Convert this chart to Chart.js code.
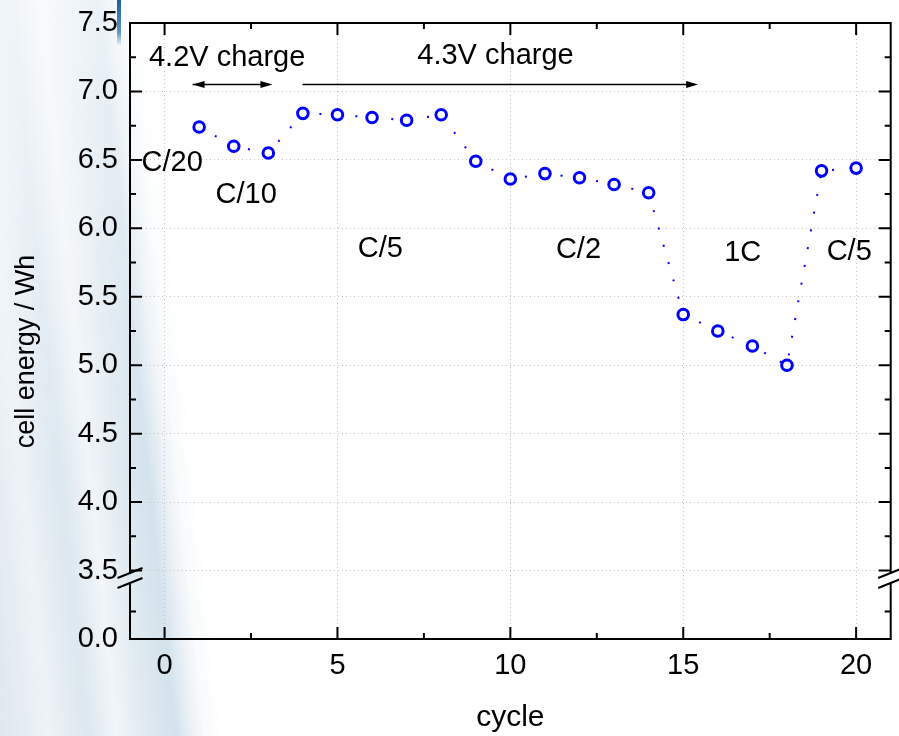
<!DOCTYPE html>
<html>
<head>
<meta charset="utf-8">
<script src="https://cdn.jsdelivr.net/npm/chart.js@4.4.1/dist/chart.umd.min.js"></script>
<style>
  html, body { margin: 0; padding: 0; }
  body {
    width: 899px; height: 736px; overflow: hidden; position: relative;
    background:
      linear-gradient(to bottom, rgba(255,255,255,0.55), rgba(255,255,255,0) 65%),
      linear-gradient(84deg, #dfe8ef 0%, #edf2f6 5%, #dde8f0 9%, #f1f5f8 12%,
        #e0eaf1 15%, #d3e2ec 18%, #e9f0f5 19.5%, #f9fbfc 21%, #ffffff 23%);
  }
  #streak {
    position: absolute; left: 117px; top: 0; width: 4px; height: 46px;
    background: linear-gradient(to bottom, #1d5f9e, #5f93c2 70%, rgba(255,255,255,0));
  }
  canvas { position: absolute; left: 0; top: 0; }
</style>
</head>
<body>
<div id="streak"></div>
<canvas id="energyChart" width="899" height="736"></canvas>
<script>
// cycle number and measured cell energy (Wh)
const cycles = [1, 2, 3, 4, 5, 6, 7, 8, 9, 10, 11, 12, 13, 14, 15, 16, 17, 18, 19, 20];
const energy = [6.74, 6.60, 6.55, 6.84, 6.83, 6.81, 6.79, 6.83, 6.49, 6.36,
                6.40, 6.37, 6.32, 6.26, 5.37, 5.25, 5.14, 5.00, 6.42, 6.44];

// axis ticks; the y axis is broken, so its lowest tick stands for 0.0
const xTicks = [0, 5, 10, 15, 20];
const yTicks = [3.0, 3.5, 4.0, 4.5, 5.0, 5.5, 6.0, 6.5, 7.0, 7.5];
const yTickLabels = ['0.0', '3.5', '4.0', '4.5', '5.0', '5.5', '6.0', '6.5', '7.0', '7.5'];

// C-rate labels and charge-voltage notes
const rateLabels = ['C/20', 'C/10', 'C/5', 'C/2', '1C', 'C/5'];
const chargeLabels = ['4.2V charge', '4.3V charge'];

const FONT = '"Liberation Sans", Arial, Helvetica, sans-serif';

// where the notes sit, in data units
const rateAt = [[0.22, 6.48], [2.36, 6.24], [6.24, 5.85], [11.97, 5.84], [16.72, 5.82], [19.8, 5.83]];
const chargeAt = [[1.81, 7.245], [9.57, 7.26]];
const arrows = [
    { from: 0.81, to: 3.12, y: 7.055, both: true },
    { from: 3.99, to: 15.43, y: 7.055, both: false },
];

const arrowHead = (ctx, x, y, dir) => {
    ctx.beginPath();
    ctx.moveTo(x, y);
    ctx.lineTo(x - dir * 12, y - 3.5);
    ctx.lineTo(x - dir * 12, y + 3.5);
    ctx.closePath();
    ctx.fill();
};

const frame = {
    id: 'frame',
    afterDatasetsDraw(chart) {
        const { ctx, chartArea: a, scales: { x, y } } = chart;
        ctx.save();

        // notes
        ctx.fillStyle = '#000';
        ctx.font = '29px ' + FONT;
        ctx.textAlign = 'center';
        ctx.textBaseline = 'middle';
        rateLabels.forEach((t, i) => {
            ctx.fillText(t, x.getPixelForValue(rateAt[i][0]), y.getPixelForValue(rateAt[i][1]));
        });
        chargeLabels.forEach((t, i) => {
            ctx.fillText(t, x.getPixelForValue(chargeAt[i][0]), y.getPixelForValue(chargeAt[i][1]));
        });

        // y axis title sits a little below the middle of the axis
        ctx.save();
        ctx.font = '27px ' + FONT;
        ctx.translate(27, y.getPixelForValue(5.10));
        ctx.rotate(-Math.PI / 2);
        ctx.fillText('cell energy / Wh', 0, 0);
        ctx.restore();

        ctx.strokeStyle = '#000';
        ctx.lineWidth = 1.3;
        arrows.forEach(ar => {
            const x1 = x.getPixelForValue(ar.from);
            const x2 = x.getPixelForValue(ar.to);
            const py = Math.round(y.getPixelForValue(ar.y)) + 0.5;
            ctx.beginPath();
            ctx.moveTo(x1, py);
            ctx.lineTo(x2 - 4, py);
            ctx.stroke();
            arrowHead(ctx, x2, py, 1);
            if (ar.both) arrowHead(ctx, x1, py, -1);
        });

        // box
        ctx.lineWidth = 2;
        ctx.strokeRect(a.left, a.top, a.right - a.left, a.bottom - a.top);

        // inward ticks on all four sides
        const xMinor = [2.5, 7.5, 12.5, 17.5];
        const yMinor = [3.2, 3.75, 4.25, 4.75, 5.25, 5.75, 6.25, 6.75, 7.25];
        ctx.lineWidth = 2;
        ctx.beginPath();
        xTicks.forEach(v => {
            const px = x.getPixelForValue(v);
            ctx.moveTo(px, a.bottom); ctx.lineTo(px, a.bottom - 12);
            ctx.moveTo(px, a.top); ctx.lineTo(px, a.top + 12);
        });
        xMinor.forEach(v => {
            const px = x.getPixelForValue(v);
            ctx.moveTo(px, a.bottom); ctx.lineTo(px, a.bottom - 6);
            ctx.moveTo(px, a.top); ctx.lineTo(px, a.top + 6);
        });
        yTicks.forEach(v => {
            const py = y.getPixelForValue(v);
            ctx.moveTo(a.left, py); ctx.lineTo(a.left + 12, py);
            ctx.moveTo(a.right, py); ctx.lineTo(a.right - 12, py);
        });
        yMinor.forEach(v => {
            const py = y.getPixelForValue(v);
            ctx.moveTo(a.left, py); ctx.lineTo(a.left + 6, py);
            ctx.moveTo(a.right, py); ctx.lineTo(a.right - 6, py);
        });
        ctx.stroke();

        // axis break marks
        const yc = y.getPixelForValue(3.446);
        [a.left, a.right].forEach(ax => {
            ctx.clearRect(ax - 2, yc - 4, 4, 8);
            ctx.beginPath();
            ctx.moveTo(ax - 12.5, yc); ctx.lineTo(ax + 12.5, yc - 10);
            ctx.moveTo(ax - 12.5, yc + 10); ctx.lineTo(ax + 12.5, yc);
            ctx.stroke();
        });
        ctx.restore();
    }
};

const data = {
    datasets: [{
        data: cycles.map((c, i) => ({ x: c, y: energy[i] })),
        showLine: true,
        borderColor: '#0000ff',
        borderWidth: 2,
        borderDash: [2, 16],
        pointRadius: 5.3,
        pointBorderWidth: 3,
        pointBorderColor: '#0000ff',
        pointBackgroundColor: '#ffffff',
    }],
};

const config = {
    type: 'scatter',
    data: data,
    options: {
        responsive: false,
        animation: false,
        layout: { padding: { left: 0, right: 8, top: 23, bottom: 0 } },
        plugins: { legend: { display: false }, tooltip: { enabled: false } },
        scales: {
            x: {
                type: 'linear', min: -1, max: 21,
                afterBuildTicks: s => { s.ticks = xTicks.map(v => ({ value: v })); },
                afterFit: s => { s.height = 97; s.paddingLeft = 0; s.paddingRight = 0; },
                ticks: { color: '#000', font: { family: FONT, size: 29 }, padding: 10, maxRotation: 0 },
                grid: { color: '#c4c4c4', lineWidth: 1, drawTicks: false },
                border: { display: false, dash: [1, 3] },
                title: { display: true, text: 'cycle', color: '#000', font: { family: FONT, size: 30 }, padding: { top: 0, bottom: 0 } },
            },
            y: {
                type: 'linear', min: 3, max: 7.5,
                afterBuildTicks: s => { s.ticks = yTicks.map(v => ({ value: v })); },
                afterFit: s => { s.width = 130; s.paddingTop = 0; s.paddingBottom = 0; },
                ticks: { color: '#000', font: { family: FONT, size: 29 }, padding: 12, callback: (v, i) => yTickLabels[i] },
                grid: { color: '#c4c4c4', lineWidth: 1, drawTicks: false },
                border: { display: false, dash: [1, 3] },
            },
        },
    },
    plugins: [frame],
};

new Chart(document.getElementById('energyChart'), config);
</script>
</body>
</html>
